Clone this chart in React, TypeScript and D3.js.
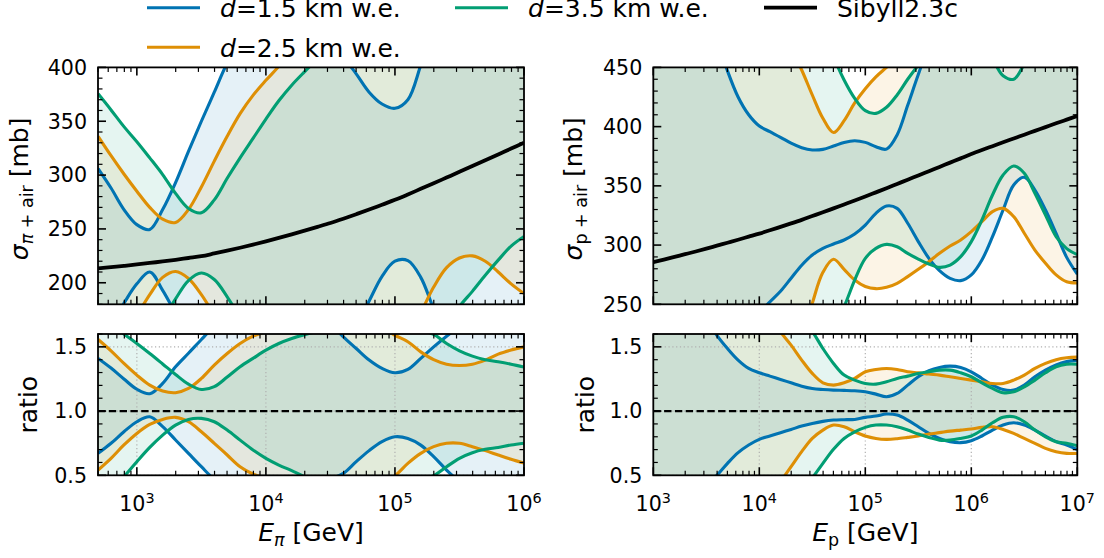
import React from 'react';
import * as d3 from 'd3';

// sample points, log10(E / GeV)
const piLogE = [2.7, 2.8, 2.9, 3.0, 3.1, 3.2, 3.3, 3.4, 3.5, 3.6, 3.7, 3.8, 3.9, 4.0, 4.1, 4.2, 4.3, 4.4, 4.5, 4.6, 4.7, 4.8, 4.9, 5.0, 5.1, 5.2, 5.3, 5.4, 5.5, 5.6, 5.7, 5.8, 5.9, 6.0];
const pLogE = [3.0, 3.1, 3.2, 3.3, 3.4, 3.5, 3.6, 3.7, 3.8, 3.9, 4.0, 4.1, 4.2, 4.3, 4.4, 4.5, 4.6, 4.7, 4.8, 4.9, 5.0, 5.1, 5.2, 5.3, 5.4, 5.5, 5.6, 5.7, 5.8, 5.9, 6.0, 6.1, 6.2, 6.3, 6.4, 6.5, 6.6, 6.7, 6.8, 6.9, 7.0];

// Sibyll2.3c cross sections [mb]
const sibPi = [213.3, 214.5, 215.7, 217, 218.4, 219.8, 221.3, 223, 224.7, 227.2, 229.8, 232.5, 235.4, 238.5, 241.7, 245, 248.4, 251.9, 255.5, 259.5, 263.7, 268, 272.5, 277, 282, 287.2, 292.4, 297.7, 303, 308.4, 313.8, 319.2, 324.6, 330];
const sibP = [285.5, 287.7, 290, 292.3, 294.6, 297.0, 299.5, 302, 304.5, 307.1, 309.7, 312.5, 315.4, 318.3, 321.3, 324.5, 327.7, 331, 334.3, 337.6, 341, 344.5, 348, 351.6, 355.2, 358.8, 362.4, 366, 369.6, 373.2, 376.8, 380.2, 383.5, 386.8, 390, 393.2, 396.4, 399.6, 402.8, 405.9, 409];

// pi+air cross section bands [mb]
const sigPiBlueHi = [306, 288, 268, 254, 249.5, 268, 293, 322, 350, 377, 404, 424, 440, 453, 459, 461, 457, 446, 429, 410, 394, 377, 366, 362, 370, 402, 438, 471, 503, 534, 559, 581, 600, 617];
const sigPiBlueLo = [143, 161, 181, 199, 210, 193, 171.5, 150, 127, 107, 96, 88, 85, 83, 85, 88, 94, 106, 120, 136, 160, 183, 206, 220, 220.5, 205, 176, 152, 132, 117, 104, 96, 91, 89];
const sigPiOrangeHi = [336, 318, 301, 285, 270, 259, 256, 268, 289, 313, 336, 357, 374, 388, 401, 416.5, 432, 446, 455, 459, 459, 456, 450, 440, 434, 420, 410, 407, 411, 421, 438, 461, 479, 495];
const sigPiOrangeLo = [115, 136, 155, 170, 189, 205, 210.5, 204, 189, 170, 151, 132, 120, 114.5, 109, 105, 102, 101, 100, 101, 105.5, 112.6, 122.6, 135, 150, 172, 196, 214, 223, 225, 220, 210, 199, 190];
const sigPiGreenHi = [375.5, 360.5, 345, 331, 316, 300.5, 283, 269, 265, 277, 297, 316, 334, 352, 369, 383.5, 396, 408, 419, 431, 443, 453, 460.5, 465, 468, 468, 467, 454, 445, 440, 439, 442, 443, 443];
const sigPiGreenLo = [58, 82, 106, 125, 145, 165, 185, 202, 209, 203, 187, 168, 152, 140, 132, 125, 119, 114, 110, 106.4, 105.5, 107, 109, 113.6, 121, 132, 145, 160, 178, 192, 207, 221, 234, 243];

// pi+air ratio to Sibyll
const rPiBlueHi = [1.41, 1.335, 1.25, 1.17, 1.135, 1.215, 1.345, 1.45, 1.557, 1.66, 1.75, 1.82, 1.87, 1.9, 1.9, 1.88, 1.84, 1.77, 1.68, 1.578, 1.487, 1.397, 1.332, 1.298, 1.324, 1.41, 1.5, 1.583, 1.66, 1.73, 1.78, 1.82, 1.85, 1.87];
const rPiBlueLo = [0.671, 0.749, 0.839, 0.917, 0.956, 0.879, 0.775, 0.671, 0.567, 0.47, 0.42, 0.38, 0.36, 0.35, 0.35, 0.36, 0.38, 0.42, 0.47, 0.515, 0.606, 0.692, 0.762, 0.8, 0.787, 0.735, 0.645, 0.541, 0.45, 0.38, 0.33, 0.3, 0.28, 0.27];
const rPiOrangeHi = [1.557, 1.469, 1.371, 1.28, 1.202, 1.156, 1.143, 1.176, 1.254, 1.358, 1.448, 1.526, 1.583, 1.62, 1.66, 1.7, 1.74, 1.77, 1.78, 1.77, 1.74, 1.7, 1.65, 1.59, 1.54, 1.461, 1.4, 1.365, 1.355, 1.365, 1.397, 1.443, 1.475, 1.5];
const rPiOrangeLo = [0.541, 0.632, 0.736, 0.826, 0.896, 0.935, 0.951, 0.917, 0.839, 0.749, 0.658, 0.567, 0.51, 0.48, 0.45, 0.43, 0.41, 0.4, 0.39, 0.39, 0.4, 0.42, 0.45, 0.497, 0.593, 0.671, 0.723, 0.749, 0.749, 0.723, 0.692, 0.658, 0.625, 0.595];
const rPiGreenHi = [1.76, 1.68, 1.6, 1.526, 1.448, 1.367, 1.285, 1.21, 1.168, 1.19, 1.265, 1.345, 1.41, 1.474, 1.526, 1.565, 1.595, 1.62, 1.64, 1.66, 1.68, 1.69, 1.69, 1.68, 1.66, 1.63, 1.597, 1.526, 1.469, 1.428, 1.4, 1.384, 1.365, 1.343];
const rPiGreenLo = [0.27, 0.38, 0.49, 0.606, 0.717, 0.813, 0.891, 0.935, 0.943, 0.917, 0.852, 0.774, 0.697, 0.632, 0.58, 0.536, 0.49, 0.46, 0.43, 0.41, 0.4, 0.4, 0.4, 0.41, 0.43, 0.46, 0.497, 0.567, 0.632, 0.676, 0.702, 0.717, 0.736, 0.75];

// p+air cross section bands [mb]
const sigPBlueHi = [700, 650, 605, 565, 530, 500, 474, 447, 425, 410, 400.5, 395.7, 391, 386, 382.2, 380.3, 380.8, 383.6, 386.7, 388.1, 386.7, 383, 381, 393, 418, 444, 468, 482, 490, 492, 490, 482, 472, 462, 461, 470, 490, 510, 530, 545, 555];
const sigPBlueLo = [146, 156, 166, 176, 186, 196, 206, 216, 225, 234, 243, 252, 261, 272, 283, 291.6, 297.2, 300.9, 304.3, 309.3, 316.9, 326.8, 333, 331, 318.4, 302.9, 288.8, 278.4, 271.9, 270, 274.8, 287.4, 307.1, 329.6, 350.7, 357.2, 346.5, 329.6, 309.9, 289.6, 275.4];
const sigPOrangeHi = [780, 760, 740, 715, 690, 665, 640, 610, 580, 555, 530, 505, 485, 466, 447.8, 426.7, 407, 395, 405, 420, 432, 442, 450, 458, 463, 466, 468, 470, 471, 472, 473, 474, 475, 478, 485, 500, 525, 545, 565, 575, 580];
const sigPOrangeLo = [80, 85, 90, 95, 100, 106, 112, 118, 125, 133, 142, 155, 172, 193, 220, 250.8, 277, 288, 279.5, 270.5, 265, 263.2, 264.3, 267.7, 273.4, 279.5, 286, 293, 299.2, 304.3, 311.3, 319.8, 328.2, 331, 324, 310, 295.8, 284.6, 274.8, 269, 268];
const sigPGreenHi = [900, 880, 860, 840, 815, 790, 765, 740, 710, 680, 650, 620, 590, 560, 530, 505, 482, 459, 439.4, 423.9, 413.5, 411.2, 416.3, 426.7, 440, 452, 464, 472, 475, 472, 467, 462, 456, 443, 440, 453, 472, 490, 505, 515, 520];
const sigPGreenLo = [60, 65, 70, 75, 80, 86, 92, 100, 108, 117, 127, 138, 150, 163, 178, 194, 212, 230, 248, 270.5, 288.8, 297.2, 300.6, 298.6, 293, 288.2, 284, 281.2, 283.1, 290.2, 302.9, 321.2, 342.3, 359.2, 366.8, 360.6, 343.7, 325.4, 307.1, 297, 292];

// p+air ratio to Sibyll
const rPBlueHi = [2.4, 2.25, 2.1, 1.97, 1.85, 1.72, 1.59, 1.487, 1.397, 1.332, 1.298, 1.272, 1.246, 1.22, 1.194, 1.176, 1.168, 1.163, 1.161, 1.158, 1.15, 1.132, 1.111, 1.137, 1.202, 1.267, 1.314, 1.34, 1.35, 1.34, 1.306, 1.254, 1.202, 1.168, 1.163, 1.202, 1.267, 1.319, 1.36, 1.385, 1.395];
const rPBlueLo = [0.15, 0.2, 0.25, 0.3, 0.36, 0.43, 0.5, 0.593, 0.676, 0.736, 0.78, 0.806, 0.832, 0.857, 0.883, 0.904, 0.92, 0.93, 0.933, 0.935, 0.951, 0.961, 0.977, 0.969, 0.93, 0.878, 0.826, 0.787, 0.762, 0.754, 0.769, 0.806, 0.852, 0.891, 0.909, 0.891, 0.852, 0.806, 0.762, 0.736, 0.7];
const rPOrangeHi = [2.5, 2.45, 2.4, 2.35, 2.3, 2.25, 2.2, 2.12, 2.02, 1.92, 1.82, 1.72, 1.615, 1.513, 1.397, 1.293, 1.22, 1.202, 1.22, 1.254, 1.306, 1.324, 1.332, 1.324, 1.306, 1.298, 1.288, 1.28, 1.267, 1.254, 1.241, 1.228, 1.215, 1.215, 1.241, 1.28, 1.332, 1.371, 1.4, 1.415, 1.42];
const rPOrangeLo = [0.1, 0.11, 0.12, 0.13, 0.14, 0.15, 0.16, 0.18, 0.2, 0.22, 0.27, 0.34, 0.45, 0.567, 0.684, 0.787, 0.852, 0.891, 0.878, 0.839, 0.806, 0.787, 0.78, 0.785, 0.795, 0.806, 0.821, 0.832, 0.844, 0.852, 0.86, 0.873, 0.878, 0.857, 0.826, 0.787, 0.749, 0.71, 0.684, 0.671, 0.67];
const rPGreenHi = [2.9, 2.8, 2.7, 2.6, 2.5, 2.4, 2.3, 2.2, 2.1, 2.0, 1.95, 1.9, 1.85, 1.79, 1.72, 1.62, 1.487, 1.371, 1.28, 1.241, 1.215, 1.21, 1.228, 1.254, 1.272, 1.293, 1.306, 1.319, 1.319, 1.298, 1.267, 1.22, 1.176, 1.143, 1.15, 1.189, 1.241, 1.298, 1.345, 1.365, 1.365];
const rPGreenLo = [0.05, 0.06, 0.07, 0.08, 0.09, 0.1, 0.11, 0.12, 0.13, 0.15, 0.17, 0.2, 0.25, 0.31, 0.39, 0.48, 0.593, 0.702, 0.787, 0.839, 0.873, 0.891, 0.891, 0.878, 0.852, 0.821, 0.795, 0.774, 0.774, 0.787, 0.806, 0.852, 0.909, 0.951, 0.956, 0.917, 0.852, 0.8, 0.762, 0.749, 0.73];

const colors = ['#0173B2', '#DE8F05', '#029E73'];
const depths = ['1.5', '2.5', '3.5'];
const piTicks = [200, 250, 300, 350, 400];
const pTicks = [250, 300, 350, 400, 450];
const ratioTicks = [0.5, 1.0, 1.5];

const font = "'DejaVu Sans', sans-serif";
const curve = d3.curveCatmullRom.alpha(0.5);
const LW = 3.1;

type Band = { color: string; lo: number[]; hi: number[] };

function logTicks([a, b]: number[]) {
  const major: number[] = [];
  const minor: number[] = [];
  for (let k = Math.floor(Math.log10(a)); k <= Math.ceil(Math.log10(b)); k++) {
    for (let m = 1; m < 10; m++) {
      const v = m * Math.pow(10, k);
      if (v < a * 0.999 || v > b * 1.001) continue;
      (m === 1 ? major : minor).push(v);
    }
  }
  return { major, minor };
}

interface PanelProps {
  id: string;
  x: d3.ScaleLogarithmic<number, number>;
  y: d3.ScaleLinear<number, number>;
  logE: number[];
  bands: Band[];
  center: number[] | null;
  yMajor: number[];
  yMinorStep: number;
  yFormat: (v: number) => string;
  grid: boolean;
  xLabels: boolean;
}

function Panel({ id, x, y, logE, bands, center, yMajor, yMinorStep, yFormat, grid, xLabels }: PanelProps) {
  const [x0, x1] = x.range();
  const [yb, yt] = y.range();
  const [d0, d1] = y.domain();
  const idx = d3.range(logE.length);
  const ex = (i: number) => x(Math.pow(10, logE[i]));

  const area = (b: Band) => d3.area<number>()
    .x(ex).y0(i => y(b.lo[i])).y1(i => y(b.hi[i])).curve(curve)(idx) || '';
  const line = (arr: number[]) => d3.line<number>()
    .x(ex).y(i => y(arr[i])).curve(curve)(idx) || '';

  const xt = logTicks(x.domain());
  const nMinor = Math.round((d1 - d0) / yMinorStep);
  const yMinor = d3.range(nMinor + 1)
    .map(i => d0 + i * yMinorStep)
    .filter(v => !yMajor.some(m => Math.abs(m - v) < 1e-6));

  const majLen = 8;
  const minLen = 4.5;

  return (
    <g>
      <defs>
        <clipPath id={id}>
          <rect x={x0} y={yt} width={x1 - x0} height={yb - yt} />
        </clipPath>
      </defs>
      <g clipPath={`url(#${id})`}>
        {bands.map((b, i) => (
          <path key={`f${i}`} d={area(b)} fill={b.color} fillOpacity={0.1} stroke="none" />
        ))}
        {grid && xt.major.map(v => (
          <line key={`gx${v}`} x1={x(v)} x2={x(v)} y1={yt} y2={yb}
            stroke="#b0b0b0" strokeWidth={1.2} strokeDasharray="1.2 2.6" />
        ))}
        {grid && yMajor.map(v => (
          <line key={`gy${v}`} x1={x0} x2={x1} y1={y(v)} y2={y(v)}
            stroke="#b0b0b0" strokeWidth={1.2} strokeDasharray="1.2 2.6" />
        ))}
        {bands.map((b, i) => (
          <g key={`l${i}`}>
            <path d={line(b.lo)} fill="none" stroke={b.color} strokeWidth={LW} />
            <path d={line(b.hi)} fill="none" stroke={b.color} strokeWidth={LW} />
          </g>
        ))}
        {center
          ? <path d={line(center)} fill="none" stroke="#000" strokeWidth={3.8} />
          : <line x1={x0} x2={x1} y1={y(1)} y2={y(1)} stroke="#000" strokeWidth={2.2} strokeDasharray="7.4 3.4" />}
      </g>

      {/* ticks pointing inward on all sides */}
      <g stroke="#000">
        {[...xt.major.map(v => [v, majLen]), ...xt.minor.map(v => [v, minLen])].map(([v, len]) => (
          <g key={`xt${v}`} strokeWidth={len === majLen ? 1.6 : 1.2}>
            <line x1={x(v)} x2={x(v)} y1={yb} y2={yb - len} />
            <line x1={x(v)} x2={x(v)} y1={yt} y2={yt + len} />
          </g>
        ))}
        {[...yMajor.map(v => [v, majLen]), ...yMinor.map(v => [v, minLen])].map(([v, len]) => (
          <g key={`yt${v}`} strokeWidth={len === majLen ? 1.6 : 1.2}>
            <line x1={x0} x2={x0 + len} y1={y(v)} y2={y(v)} />
            <line x1={x1} x2={x1 - len} y1={y(v)} y2={y(v)} />
          </g>
        ))}
      </g>
      <rect x={x0} y={yt} width={x1 - x0} height={yb - yt} fill="none" stroke="#000" strokeWidth={1.8} />

      {yMajor.map(v => (
        <text key={`yl${v}`} x={x0 - 11} y={y(v) + 7.3} fontSize={20.6} textAnchor="end">{yFormat(v)}</text>
      ))}
      {xLabels && xt.major.map(v => (
        <text key={`xl${v}`} x={x(v)} y={yb + 36} fontSize={20.6} textAnchor="middle">
          10<tspan fontSize={14.4} dy={-8.8}>{Math.round(Math.log10(v))}</tspan>
        </text>
      ))}
    </g>
  );
}

function Legend() {
  const entries = [
    { color: colors[0], label: depths[0], x: 147, y: 7.7 },
    { color: colors[1], label: depths[1], x: 147, y: 47.2 },
    { color: colors[2], label: depths[2], x: 455, y: 7.7 },
  ];
  return (
    <g fontSize={25}>
      {entries.map(e => (
        <g key={e.label}>
          <line x1={e.x} x2={e.x + 53} y1={e.y} y2={e.y} stroke={e.color} strokeWidth={LW} />
          <text x={e.x + 73} y={e.y + 9.3}>
            <tspan fontStyle="italic">d</tspan>={e.label} km w.e.
          </text>
        </g>
      ))}
      <line x1={764} x2={817} y1={7.7} y2={7.7} stroke="#000" strokeWidth={3.8} />
      <text x={837} y={17}>Sibyll2.3c</text>
    </g>
  );
}

export default function App() {
  const LEFT = [98, 524];
  const RIGHT = [653.3, 1077.3];
  const TOP = [304.3, 67.4];
  const BOT = [475.3, 334];

  const xPi = d3.scaleLog().domain([500, 1e6]).range(LEFT);
  const xP = d3.scaleLog().domain([1e3, 1e7]).range(RIGHT);
  const yPi = d3.scaleLinear().domain([180, 400]).range(TOP);
  const yP = d3.scaleLinear().domain([250, 450]).range(TOP);
  const yRl = d3.scaleLinear().domain([0.5, 1.6]).range(BOT);

  const piBands: Band[] = [
    { color: colors[0], lo: sigPiBlueLo, hi: sigPiBlueHi },
    { color: colors[1], lo: sigPiOrangeLo, hi: sigPiOrangeHi },
    { color: colors[2], lo: sigPiGreenLo, hi: sigPiGreenHi },
  ];
  const piRatio: Band[] = [
    { color: colors[0], lo: rPiBlueLo, hi: rPiBlueHi },
    { color: colors[1], lo: rPiOrangeLo, hi: rPiOrangeHi },
    { color: colors[2], lo: rPiGreenLo, hi: rPiGreenHi },
  ];
  const pBands: Band[] = [
    { color: colors[0], lo: sigPBlueLo, hi: sigPBlueHi },
    { color: colors[1], lo: sigPOrangeLo, hi: sigPOrangeHi },
    { color: colors[2], lo: sigPGreenLo, hi: sigPGreenHi },
  ];
  const pRatio: Band[] = [
    { color: colors[0], lo: rPBlueLo, hi: rPBlueHi },
    { color: colors[1], lo: rPOrangeLo, hi: rPOrangeHi },
    { color: colors[2], lo: rPGreenLo, hi: rPGreenHi },
  ];

  const midTop = (TOP[0] + TOP[1]) / 2;
  const midBot = (BOT[0] + BOT[1]) / 2;

  return (
    <svg width={1104} height={558} fontFamily={font}
      style={{ position: 'absolute', left: 0, top: 0, display: 'block' }}>
      <rect width={1104} height={558} fill="#fff" />
      <Legend />

      <Panel id="c-pi" x={xPi} y={yPi} logE={piLogE} bands={piBands} center={sibPi}
        yMajor={piTicks} yMinorStep={10} yFormat={v => String(v)} grid={false} xLabels={false} />
      <Panel id="c-pir" x={xPi} y={yRl} logE={piLogE} bands={piRatio} center={null}
        yMajor={ratioTicks} yMinorStep={0.1} yFormat={v => v.toFixed(1)} grid={true} xLabels={true} />
      <Panel id="c-p" x={xP} y={yP} logE={pLogE} bands={pBands} center={sibP}
        yMajor={pTicks} yMinorStep={10} yFormat={v => String(v)} grid={false} xLabels={false} />
      <Panel id="c-pr" x={xP} y={yRl} logE={pLogE} bands={pRatio} center={null}
        yMajor={ratioTicks} yMinorStep={0.1} yFormat={v => v.toFixed(1)} grid={true} xLabels={true} />

      {/* axis labels */}
      <text transform={`translate(28,${midTop + 3}) rotate(-90)`} fontSize={25} textAnchor="middle">
        <tspan fontStyle="italic">σ</tspan>
        <tspan fontSize={17.5} dy={5}><tspan fontStyle="italic">π</tspan> + air</tspan>
        <tspan dy={-5}> [mb]</tspan>
      </text>
      <text transform={`translate(37,${midBot}) rotate(-90)`} fontSize={25} textAnchor="middle">ratio</text>
      <text transform={`translate(582,${midTop + 3}) rotate(-90)`} fontSize={25} textAnchor="middle">
        <tspan fontStyle="italic">σ</tspan>
        <tspan fontSize={17.5} dy={5}>p + air</tspan>
        <tspan dy={-5}> [mb]</tspan>
      </text>
      <text transform={`translate(594,${midBot}) rotate(-90)`} fontSize={25} textAnchor="middle">ratio</text>

      <text x={(LEFT[0] + LEFT[1]) / 2} y={541} fontSize={25} textAnchor="middle">
        <tspan fontStyle="italic">E</tspan>
        <tspan fontSize={17.5} dy={5} fontStyle="italic">π</tspan>
        <tspan dy={-5}> [GeV]</tspan>
      </text>
      <text x={(RIGHT[0] + RIGHT[1]) / 2} y={541} fontSize={25} textAnchor="middle">
        <tspan fontStyle="italic">E</tspan>
        <tspan fontSize={17.5} dy={5}>p</tspan>
        <tspan dy={-5}> [GeV]</tspan>
      </text>
    </svg>
  );
}
